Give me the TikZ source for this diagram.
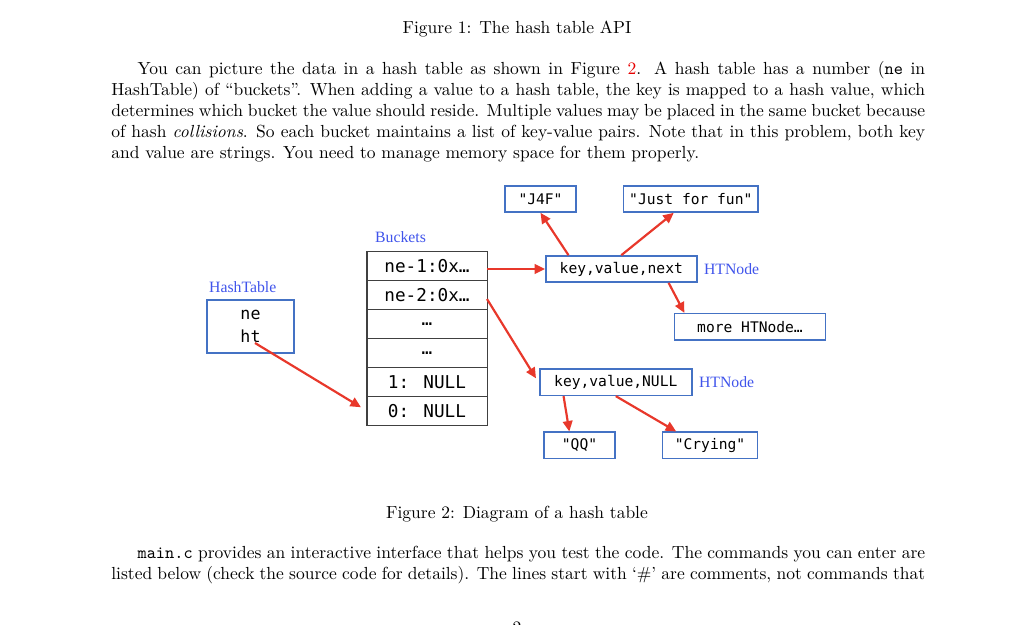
\documentclass[tikz,border=0pt]{standalone}
\usepackage{fontspec}
\newfontfamily\codefont{DejaVu Sans Mono}
\newfontfamily\labelfont{Liberation Serif}
\usepackage{tikz}
\usetikzlibrary{arrows.meta,positioning,calc}
\definecolor{hBlue}{RGB}{68,114,196}
\definecolor{hLabel}{RGB}{64,84,235}
\definecolor{hRed}{RGB}{232,56,43}
\definecolor{hGray}{RGB}{64,64,64}
\definecolor{linkRed}{RGB}{230,0,0}

\begin{document}
\begin{tikzpicture}[
					x=0.5714pt,y=-0.5714pt,
					bucket/.style={
						draw=hGray,
						line width=0.6pt,
						outer sep=0pt,
						inner sep=0pt,
						minimum width=68.6pt,
						minimum height=16.6pt,
						font=\codefont\fontsize{10.1}{12}\selectfont
					},
					hnode/.style={
						draw=hBlue,
						line width=0.9pt,
						inner sep=0pt,
						minimum height=14.9pt,
						font=\codefont\fontsize{8.35}{10}\selectfont
					},
					tag/.style={
						text=hLabel,
						inner sep=1.5pt,
						font=\labelfont\fontsize{9}{11}\selectfont
					},
					ptr/.style={
						-{Triangle[length=6pt,width=5.5pt]},
						draw=hRed,
						line width=1.25pt
					},
					body/.style={
						text width=465pt,
						align=justify,
						inner sep=0pt,
						anchor=base west
					}
					]
					\useasboundingbox (0,0) rectangle (1024,624);
					
					% page text
					\node[anchor=base,inner sep=0pt](cap1) at (517,33){Figure 1: The hash table API};
					\node[body](par1) at (111,74){\hspace*{15pt}You can picture the data in a hash table as shown in Figure \textcolor{linkRed}{2}. A hash table has a number (\texttt{ne} in HashTable) of ``buckets''. When adding a value to a hash table, the key is mapped to a hash value, which determines which bucket the value should reside. Multiple values may be placed in the same bucket because of hash \emph{collisions}. So each bucket maintains a list of key-value pairs. Note that in this problem, both key and value are strings. You need to manage memory space for them properly.};
					
					% hash table struct
					\node[hnode,minimum width=49.7pt,minimum height=30.3pt,align=center,font=\codefont\fontsize{9.5}{13.1}\selectfont](htab) at (250.5,326.5){ne\\ht};
					\node[tag,anchor=south west,yshift=2pt](htlbl) at (htab.north west){HashTable};
					\coordinate (htptr) at ($(htab.center)+(4.5,16.5)$);
					
					% buckets
					\node[bucket](b1) at (427,266){ne-1:0x…};
					\node[bucket,below=0pt of b1](b2){ne-2:0x…};
					\node[bucket,below=0pt of b2](b3){…};
					\node[bucket,below=0pt of b3](b4){…};
					\node[bucket,below=0pt of b4](b5){1: NULL};
					\node[bucket,below=0pt of b5](b6){0: NULL};
					\node[tag,anchor=south west,xshift=3pt,yshift=3.5pt](bklbl) at (b1.north west){Buckets};
					
					% list nodes
					\node[hnode,minimum width=86.3pt](kvn) at (621.3,269){key,value,next};
					\node[tag,anchor=west,xshift=2pt](tag1) at (kvn.east){HTNode};
					\node[hnode,minimum width=40.6pt](j4f) at (540.5,199){"J4F"};
					\node[hnode,minimum width=77.1pt](jff) at (690.8,199){"Just for fun"};
					\node[hnode,minimum width=86.3pt](more) at (750,326.7){more HTNode…};
					\node[hnode,minimum width=86.9pt](kvnull) at (615.8,382.3){key,value,NULL};
					\node[tag,anchor=west,xshift=2pt](tag2) at (kvnull.east){HTNode};
					\node[hnode,minimum width=40.6pt](qq) at (579.5,445.3){"QQ"};
					\node[hnode,minimum width=54.3pt](cry) at (710,445.3){"Crying"};
					
					% pointers
					\draw[ptr] (htptr) -- ($(b6.west)+(-6,-4)$);
					\draw[ptr] (b1.east |- kvn.west) -- (kvn.west);
					\draw[ptr] ($(b2.east)+(0,4)$) -- ($(kvnull.west)+(-3,-4)$);
					\draw[ptr] ($(kvn.north west)!0.154!(kvn.north east)$) -- (j4f.south);
					\draw[ptr] (kvn.north) -- ($(jff.south west)!0.375!(jff.south east)$);
					\draw[ptr] ($(kvn.south west)!0.81!(kvn.south east)$) -- ($(more.north west)!0.07!(more.north east)$);
					\draw[ptr] ($(kvnull.south west)!0.16!(kvnull.south east)$) -- ($(qq.north west)!0.36!(qq.north east)$);
					\draw[ptr] (kvnull.south) -- ($(cry.north west)!0.15!(cry.north east)$);
					
					% page text below
					\node[anchor=base,inner sep=0pt](cap2) at (517,518){Figure 2: Diagram of a hash table};
					\node[body](par2) at (111,558){\parfillskip=0pt\relax\hspace*{15pt}\texttt{main.c} provides an interactive interface that helps you test the code. The commands you can enter are listed below (check the source code for details). The lines start with `\#' are comments, not commands that};
					\node[anchor=base,inner sep=0pt](pgno) at (517,633){2};
					
				\end{tikzpicture}
\end{document}
